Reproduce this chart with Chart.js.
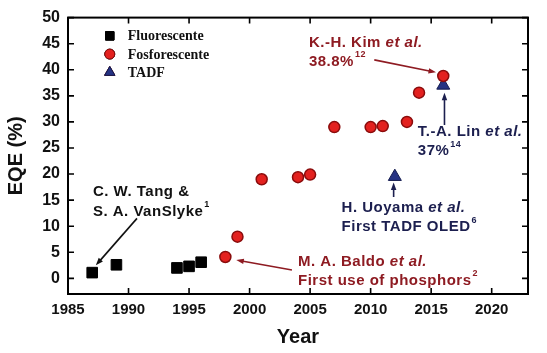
<!DOCTYPE html>
<html>
<head>
<meta charset="utf-8">
<script src="https://cdn.jsdelivr.net/npm/chart.js@4"></script>
<style>
  html, body { margin: 0; padding: 0; background: #fff; }
  #wrap { width: 547px; height: 353px; }
</style>
</head>
<body>
<div id="wrap"><canvas id="eqeChart" width="547" height="353"></canvas></div>
<script>
// data
const fluorYears = [1987, 1989, 1994, 1995, 1996];
const fluorEQE = [1.1, 2.6, 2.0, 2.3, 3.1];

const phosYears = [1998, 1999, 2001, 2004, 2005, 2007, 2010, 2011, 2013, 2014, 2016];
const phosEQE = [4.1, 8.0, 19.0, 19.4, 19.9, 29.0, 29.0, 29.2, 30.0, 35.6, 38.8];

const tadfYears = [2012, 2016];
const tadfEQE = [19.5, 37.0];

const xTicks = [1985, 1990, 1995, 2000, 2005, 2010, 2015, 2020];
const yTicks = [0, 5, 10, 15, 20, 25, 30, 35, 40, 45, 50];

const seriesNames = ['Fluorescente', 'Fosforescente', 'TADF'];

const RED_TXT = '#8e1b22';
const BLUE_TXT = '#1c1f4f';

// annotations: text lines + arrow, in data units
const notes = [
  { lines: [['C. W. Tang &'], ['S. A. VanSlyke', '1']], x: 1987.06, y: [16.5, 12.8], color: '#111',
    arrow: [1990.7, 11.5, 1987.3, 2.5] },
  { lines: [['K.-H. Kim ', 'et al.', 'i'], ['38.8%', '12']], x: 2004.9, y: [45.2, 41.5], color: RED_TXT,
    arrow: [2010.3, 41.9, 2015.4, 39.5] },
  { lines: [['T.-A. Lin ', 'et al.', 'i'], ['37%', '14']], x: 2013.9, y: [28.1, 24.4], color: BLUE_TXT,
    arrow: [2016.1, 29.4, 2016.1, 35.6] },
  { lines: [['H. Uoyama ', 'et al.', 'i'], ['First TADF OLED', '6']], x: 2007.6, y: [13.5, 9.8], color: BLUE_TXT,
    arrow: [2011.9, 15.6, 2011.9, 18.4] },
  { lines: [['M. A. Baldo ', 'et al.', 'i'], ['First use of phosphors', '2']], x: 2004.0, y: [3.1, -0.4], color: RED_TXT,
    arrow: [2003.5, 1.6, 1998.9, 3.5] }
];

function toPts(xs, ys) {
  return xs.map((x, i) => ({ x: x, y: ys[i] }));
}

function drawArrow(ctx, x1, y1, x2, y2, color) {
  const ang = Math.atan2(y2 - y1, x2 - x1);
  const head = 8;
  ctx.strokeStyle = color;
  ctx.fillStyle = color;
  ctx.lineWidth = 1.6;
  ctx.beginPath();
  ctx.moveTo(x1, y1);
  ctx.lineTo(x2 - Math.cos(ang) * head * 0.7, y2 - Math.sin(ang) * head * 0.7);
  ctx.stroke();
  ctx.beginPath();
  ctx.moveTo(x2, y2);
  ctx.lineTo(x2 - head * Math.cos(ang - 0.35), y2 - head * Math.sin(ang - 0.35));
  ctx.lineTo(x2 - head * Math.cos(ang + 0.35), y2 - head * Math.sin(ang + 0.35));
  ctx.closePath();
  ctx.fill();
}

const framePlugin = {
  id: 'frame',
  afterDatasetsDraw(chart) {
    const { ctx, chartArea: a, scales } = chart;
    ctx.save();
    ctx.strokeStyle = '#000';
    ctx.lineWidth = 2;
    ctx.strokeRect(a.left, a.top, a.right - a.left, a.bottom - a.top);
    ctx.lineWidth = 1.6;
    ctx.beginPath();
    xTicks.forEach(v => {
      const px = scales.x.getPixelForValue(v);
      ctx.moveTo(px, a.bottom); ctx.lineTo(px, a.bottom - 6);
      ctx.moveTo(px, a.top); ctx.lineTo(px, a.top + 6);
    });
    yTicks.forEach(v => {
      const py = scales.y.getPixelForValue(v);
      ctx.moveTo(a.left, py); ctx.lineTo(a.left + 6, py);
      ctx.moveTo(a.right, py); ctx.lineTo(a.right - 6, py);
    });
    ctx.stroke();

    // annotations
    ctx.textBaseline = 'middle';
    ctx.textAlign = 'left';
    ctx.letterSpacing = '0.5px';
    notes.forEach(n => {
      n.lines.forEach((parts, li) => {
        let px = scales.x.getPixelForValue(n.x);
        const py = scales.y.getPixelForValue(n.y[li]);
        ctx.fillStyle = n.color;
        ctx.font = 'bold 15px "Liberation Sans", Arial, sans-serif';
        ctx.fillText(parts[0], px, py);
        px += ctx.measureText(parts[0]).width;
        if (parts.length === 3) {
          ctx.font = 'italic bold 15px "Liberation Sans", Arial, sans-serif';
          ctx.fillText(parts[1], px, py);
        } else if (parts.length === 2) {
          ctx.font = 'bold 9px "Liberation Sans", Arial, sans-serif';
          ctx.fillText(parts[1], px + 1, py - 7);
        }
      });
      const ar = n.arrow;
      drawArrow(ctx,
        scales.x.getPixelForValue(ar[0]), scales.y.getPixelForValue(ar[1]),
        scales.x.getPixelForValue(ar[2]), scales.y.getPixelForValue(ar[3]), n.color);
    });
    ctx.restore();
  }
};

const ctx = document.getElementById('eqeChart').getContext('2d');
const chart = new Chart(ctx, {
  type: 'scatter',
  data: {
    datasets: [
      {
        label: seriesNames[0],
        data: toPts(fluorYears, fluorEQE),
        pointStyle: 'rect',
        pointRadius: 7.5,
        backgroundColor: '#000',
        borderColor: '#000',
        borderWidth: 1
      },
      {
        label: seriesNames[1],
        data: toPts(phosYears, phosEQE),
        pointStyle: 'circle',
        pointRadius: 5.5,
        backgroundColor: '#e3211f',
        borderColor: '#8a0c0c',
        borderWidth: 1.5
      },
      {
        label: seriesNames[2],
        data: toPts(tadfYears, tadfEQE),
        pointStyle: 'triangle',
        pointRadius: 7.5,
        backgroundColor: '#263383',
        borderColor: '#131a4d',
        borderWidth: 1
      }
    ]
  },
  options: {
    responsive: false,
    animation: false,
    layout: { padding: { top: 9, right: 19, left: 4, bottom: 0 } },
    plugins: {
      legend: { display: false },
      tooltip: { enabled: false }
    },
    scales: {
      x: {
        type: 'linear',
        min: 1985,
        max: 2023,
        afterBuildTicks: axis => { axis.ticks = xTicks.map(v => ({ value: v })); },
        afterFit: scale => { scale.height = 59; },
        grid: { display: false, drawTicks: false },
        border: { display: false },
        ticks: {
          padding: 7,
          color: '#111',
          callback: v => String(v),
          font: { family: '"Liberation Sans", Arial, sans-serif', size: 15, weight: 'bold' }
        },
        title: {
          display: true,
          text: 'Year',
          color: '#111',
          padding: { top: 2 },
          font: { family: '"Liberation Sans", Arial, sans-serif', size: 20, weight: 'bold' }
        }
      },
      y: {
        min: -3,
        max: 50,
        afterBuildTicks: axis => { axis.ticks = yTicks.map(v => ({ value: v })); },
        afterFit: scale => { scale.width = 64; },
        grid: { display: false, drawTicks: false },
        border: { display: false },
        ticks: {
          padding: 8,
          color: '#111',
          font: { family: '"Liberation Sans", Arial, sans-serif', size: 16, weight: 'bold' }
        },
        title: {
          display: true,
          text: 'EQE (%)',
          color: '#111',
          padding: 0,
          font: { family: '"Liberation Sans", Arial, sans-serif', size: 20, weight: 'bold' }
        }
      }
    }
  },
  plugins: [framePlugin, {
    id: 'legendBox',
    afterDraw(c) {
      const { ctx: g, scales } = c;
      g.save();
      const lx = scales.x.getPixelForValue(1988.45);
      const rows = [46.5, 43.0, 39.5];
      g.font = 'bold 14px "Liberation Serif", "Times New Roman", serif';
      g.textBaseline = 'middle';
      rows.forEach((yv, i) => {
        const py = scales.y.getPixelForValue(yv);
        const ds = c.data.datasets[i];
        Chart.helpers.drawPoint(g, {
          pointStyle: ds.pointStyle,
          radius: i === 1 ? 5 : 6,
          borderWidth: ds.borderWidth
        }, lx, py);
        g.fillStyle = ds.backgroundColor;
        g.strokeStyle = ds.borderColor;
        g.fill();
        g.stroke();
        g.fillStyle = '#111';
        g.fillText(seriesNames[i], lx + 18, py + 1);
      });
      g.restore();
    }
  }]
});
</script>
</body>
</html>
